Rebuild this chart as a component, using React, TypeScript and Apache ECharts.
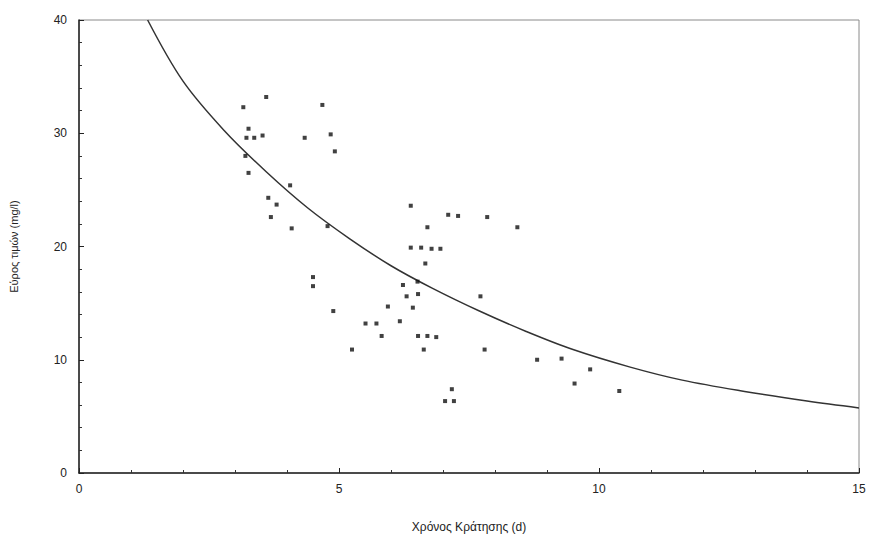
import React, { useEffect, useRef } from "react";
import * as echarts from "echarts";

// Observed samples: retention time (d) and value (mg/l)
const sampleTimes = [
  3.16, 3.6, 4.68, 3.26, 3.22, 3.37, 3.53, 4.34, 4.84, 4.92, 3.2, 3.26, 4.06, 3.64, 3.8, 3.69, 4.09, 4.78,
  4.5, 4.5, 4.89, 5.25, 5.51, 5.72, 5.82, 5.94, 6.17, 6.23, 6.3, 6.51, 6.52, 6.42, 6.52, 6.7, 6.87, 6.63,
  6.66, 6.38, 7.1, 7.29, 7.85, 6.7, 8.43, 6.38, 6.58, 6.78, 6.95, 7.72, 7.8, 8.81, 9.28, 9.53, 7.17, 7.04,
  7.21, 9.83, 10.39,
];
const sampleValues = [
  32.3, 33.2, 32.5, 30.4, 29.6, 29.6, 29.8, 29.6, 29.9, 28.4, 28.0, 26.5, 25.4, 24.3, 23.7, 22.6, 21.6, 21.8,
  17.3, 16.5, 14.3, 10.9, 13.2, 13.2, 12.1, 14.7, 13.4, 16.6, 15.6, 16.9, 15.8, 14.6, 12.1, 12.1, 12.0, 10.9,
  18.5, 23.6, 22.8, 22.7, 22.6, 21.7, 21.7, 19.9, 19.9, 19.8, 19.8, 15.6, 10.9, 10.0, 10.1, 7.9, 7.4, 6.35,
  6.35, 9.15, 7.24,
];

// Fitted curve
const curveTimes = [1.32, 2.0, 2.8, 3.6, 4.4, 5.2, 6.0, 6.8, 7.7, 8.6, 9.5, 10.6, 11.6, 12.8, 14.0, 15];
const curveValues = [40, 34.6, 30.2, 26.6, 23.4, 20.7, 18.3, 16.3, 14.3, 12.5, 10.9, 9.35, 8.2, 7.2, 6.35, 5.74];

const xTicks = { min: 0, max: 15, interval: 5 };
const yTicks = { min: 0, max: 40, interval: 10 };

const xName = "Χρόνος Κράτησης (d)";
const yName = "Εύρος τιμών (mg/l)";

export default function App() {
  const ref = useRef<HTMLDivElement>(null);
  useEffect(() => {
    if (!ref.current) return;
    const chart = echarts.init(ref.current, undefined, { renderer: "svg" });
    const font = "Liberation Sans, Arial, sans-serif";
    chart.setOption({
      animation: false,
      backgroundColor: "#ffffff",
      grid: {
        left: 77,
        right: 10,
        top: 20,
        bottom: 66,
        show: true,
        borderColor: "#8a8a8a",
        borderWidth: 1,
        backgroundColor: "transparent",
      },
      xAxis: {
        type: "value",
        min: xTicks.min,
        max: xTicks.max,
        interval: xTicks.interval,
        name: xName,
        nameLocation: "middle",
        nameGap: 48,
        nameTextStyle: { fontFamily: font, fontSize: 12, color: "#222" },
        axisLine: { show: true, lineStyle: { color: "#222", width: 1.5 } },
        axisTick: { show: true, inside: true, length: 5, lineStyle: { color: "#222" } },
        minorTick: { show: true, splitNumber: 5, length: 3, lineStyle: { color: "#333" } },
        axisLabel: { fontFamily: font, fontSize: 12, color: "#222", margin: 10 },
        splitLine: { show: false },
      },
      yAxis: {
        type: "value",
        min: yTicks.min,
        max: yTicks.max,
        interval: yTicks.interval,
        name: yName,
        nameLocation: "middle",
        nameGap: 60,
        nameRotate: 90,
        nameTextStyle: { fontFamily: font, fontSize: 11, color: "#222" },
        axisLine: { show: true, lineStyle: { color: "#222", width: 1.5 } },
        axisTick: { show: true, inside: true, length: 5, lineStyle: { color: "#222" } },
        minorTick: { show: true, splitNumber: 5, length: 3, lineStyle: { color: "#333" } },
        axisLabel: { fontFamily: font, fontSize: 12, color: "#222", margin: 12 },
        splitLine: { show: false },
      },
      series: [
        {
          type: "line",
          data: curveTimes.map((x, i) => [x, curveValues[i]]),
          smooth: 0.35,
          showSymbol: false,
          symbol: "none",
          lineStyle: { color: "#333", width: 1.5 },
          z: 2,
        },
        {
          type: "scatter",
          data: sampleTimes.map((x, i) => [x, sampleValues[i]]),
          symbol: "rect",
          symbolSize: 4,
          itemStyle: { color: "#111" },
          z: 3,
        },
      ],
    });
    return () => chart.dispose();
  }, []);
  return (
    <div
      ref={ref}
      style={{ position: "fixed", left: 0, top: 0, width: 869, height: 539 }}
    />
  );
}
